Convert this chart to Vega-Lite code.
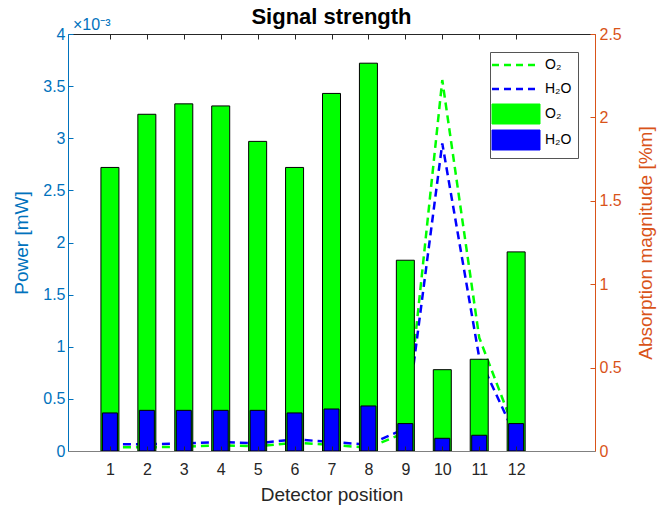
{
  "$schema": "https://vega.github.io/schema/vega-lite/v6.json",
  "autosize": {"type": "none"},
  "padding": {"left": 68, "top": 34, "right": 62, "bottom": 57},
  "width": 527,
  "height": 417,
  "title": {
    "text": "Signal strength",
    "font": "Liberation Sans",
    "fontSize": 22,
    "fontWeight": "bold",
    "color": "#000000",
    "anchor": "middle",
    "offset": -12
  },
  "config": {
    "font": "Liberation Sans",
    "view": {"stroke": null},
    "axis": {"grid": false, "labelFont": "Liberation Sans", "titleFont": "Liberation Sans", "titleFontWeight": "normal", "labelFontSize": 16, "titleFontSize": 19}
  },
  "datasets": {
    "power": [
      {"pos": 1, "series": "O₂ power", "mW": 0.00272},
      {"pos": 2, "series": "O₂ power", "mW": 0.00323},
      {"pos": 3, "series": "O₂ power", "mW": 0.00333},
      {"pos": 4, "series": "O₂ power", "mW": 0.00331},
      {"pos": 5, "series": "O₂ power", "mW": 0.00297},
      {"pos": 6, "series": "O₂ power", "mW": 0.00272},
      {"pos": 7, "series": "O₂ power", "mW": 0.00343},
      {"pos": 8, "series": "O₂ power", "mW": 0.00372},
      {"pos": 9, "series": "O₂ power", "mW": 0.00183},
      {"pos": 10, "series": "O₂ power", "mW": 0.00078},
      {"pos": 11, "series": "O₂ power", "mW": 0.00088},
      {"pos": 12, "series": "O₂ power", "mW": 0.00191},
      {"pos": 1, "series": "H₂O power", "mW": 0.000365},
      {"pos": 2, "series": "H₂O power", "mW": 0.00039},
      {"pos": 3, "series": "H₂O power", "mW": 0.00039},
      {"pos": 4, "series": "H₂O power", "mW": 0.00039},
      {"pos": 5, "series": "H₂O power", "mW": 0.00039},
      {"pos": 6, "series": "H₂O power", "mW": 0.000365},
      {"pos": 7, "series": "H₂O power", "mW": 0.000403},
      {"pos": 8, "series": "H₂O power", "mW": 0.000432},
      {"pos": 9, "series": "H₂O power", "mW": 0.000263},
      {"pos": 10, "series": "H₂O power", "mW": 0.000122},
      {"pos": 11, "series": "H₂O power", "mW": 0.000151},
      {"pos": 12, "series": "H₂O power", "mW": 0.000263}
    ],
    "absorption": [
      {"pos": 1, "series": "O₂ absorption", "pct": 0.022},
      {"pos": 2, "series": "O₂ absorption", "pct": 0.022},
      {"pos": 3, "series": "O₂ absorption", "pct": 0.026},
      {"pos": 4, "series": "O₂ absorption", "pct": 0.034},
      {"pos": 5, "series": "O₂ absorption", "pct": 0.028},
      {"pos": 6, "series": "O₂ absorption", "pct": 0.05},
      {"pos": 7, "series": "O₂ absorption", "pct": 0.036},
      {"pos": 8, "series": "O₂ absorption", "pct": 0.02},
      {"pos": 9, "series": "O₂ absorption", "pct": 0.11},
      {"pos": 10, "series": "O₂ absorption", "pct": 2.224},
      {"pos": 11, "series": "O₂ absorption", "pct": 0.68},
      {"pos": 12, "series": "O₂ absorption", "pct": 0.1},
      {"pos": 1, "series": "H₂O absorption", "pct": 0.04},
      {"pos": 2, "series": "H₂O absorption", "pct": 0.04},
      {"pos": 3, "series": "H₂O absorption", "pct": 0.045},
      {"pos": 4, "series": "H₂O absorption", "pct": 0.054},
      {"pos": 5, "series": "H₂O absorption", "pct": 0.046},
      {"pos": 6, "series": "H₂O absorption", "pct": 0.07},
      {"pos": 7, "series": "H₂O absorption", "pct": 0.054},
      {"pos": 8, "series": "H₂O absorption", "pct": 0.038},
      {"pos": 9, "series": "H₂O absorption", "pct": 0.135},
      {"pos": 10, "series": "H₂O absorption", "pct": 1.844},
      {"pos": 11, "series": "H₂O absorption", "pct": 0.56},
      {"pos": 12, "series": "H₂O absorption", "pct": 0.08}
    ]
  },
  "layer": [
    {
      "data": {"name": "absorption"},
      "mark": {"type": "line", "strokeDash": [8, 5], "strokeWidth": 2.5},
      "encoding": {
        "x": {
          "field": "pos", "type": "quantitative",
          "scale": {"domain": [0, 14], "nice": false, "zero": false},
          "axis": {"orient": "top", "values": [1,2,3,4,5,6,7,8,9,10,11,12], "labels": false, "title": null, "tickSize": -5, "domainColor": "#262626", "tickColor": "#262626"}
        },
        "y": {
          "field": "pct", "type": "quantitative",
          "scale": {"domain": [0, 2.5], "nice": false},
          "axis": {"orient": "right", "values": [0, 0.5, 1, 1.5, 2, 2.5], "format": ".1~f", "title": "Absorption magnitude [%m]", "titleAngle": 270, "tickSize": -5, "labelPadding": 9, "titlePadding": 34, "domainColor": "#D95319", "tickColor": "#D95319", "labelColor": "#D95319", "titleColor": "#D95319"}
        },
        "color": {
          "field": "series", "type": "nominal",
          "scale": {"domain": ["O₂ absorption", "H₂O absorption", "O₂ power", "H₂O power"], "range": ["#00ff00", "#0000ff", "#00ff00", "#0000ff"]},
          "legend": {
            "title": null,
            "orient": "none",
            "legendX": 422,
            "legendY": 18,
            "direction": "vertical",
            "padding": 6,
            "strokeColor": "#555555",
            "fillColor": "#ffffff",
            "symbolSize": 400,
            "symbolOffset": 13,
            "labelOffset": 22,
            "rowPadding": 2,
            "labelFont": "Liberation Sans",
            "labelFontSize": 14,
            "labelColor": "#000000",
            "labelExpr": "split(datum.label, ' ')[0]",
            "encode": {
              "symbols": {
                "update": {
                  "shape": {"signal": "datum.index < 2 ? 'M-2.4,-0.6M-2.4,0.6M-2.4,0H2.4' : 'M-2.4,-1H2.4V1H-2.4Z'"},
                  "size": {"value": 400},
                  "strokeDash": {"signal": "datum.index < 2 ? [7, 5] : [1, 0]"},
                  "strokeWidth": {"signal": "datum.index < 2 ? 2.5 : 1"},
                  "stroke": {"signal": "datum.index < 2 ? (datum.index == 0 ? '#00ff00' : '#0000ff') : '#000000'"},
                  "fill": {"signal": "datum.index < 2 ? 'transparent' : (datum.index == 2 ? '#00ff00' : '#0000ff')"},
                  "opacity": {"value": 1}
                }
              }
            }
          }
        }
      }
    },
    {
      "layer": [
        {
          "data": {"name": "power"},
          "transform": [{"filter": "datum.series == 'O₂ power'"}],
          "mark": {"type": "bar", "size": 18, "stroke": "#000000", "strokeWidth": 1, "orient": "vertical"},
          "encoding": {
            "x": {
              "field": "pos", "type": "quantitative",
              "axis": {"orient": "bottom", "values": [1,2,3,4,5,6,7,8,9,10,11,12], "title": "Detector position", "tickSize": -5, "labelPadding": 15, "titlePadding": 8, "zindex": 1, "domainColor": "#808080", "tickColor": "#262626", "labelColor": "#262626", "titleColor": "#262626"}
            },
            "y": {
              "field": "mW", "type": "quantitative", "stack": null,
              "scale": {"domain": [0, 0.004], "nice": false},
              "axis": {"orient": "left", "values": [0, 0.0005, 0.001, 0.0015, 0.002, 0.0025, 0.003, 0.0035, 0.004], "labelExpr": "format(datum.value * 1000, '.1~f')", "title": "Power [mW]", "tickSize": -5, "labelPadding": 8, "titlePadding": 11, "domainColor": "#0072BD", "tickColor": "#0072BD", "labelColor": "#0072BD", "titleColor": "#0072BD"}
            },
            "color": {"field": "series", "type": "nominal"}
          }
        },
        {
          "data": {"name": "power"},
          "transform": [{"filter": "datum.series == 'H₂O power'"}],
          "mark": {"type": "bar", "size": 15, "stroke": "#000000", "strokeWidth": 1, "orient": "vertical"},
          "encoding": {
            "x": {"field": "pos", "type": "quantitative"},
            "y": {"field": "mW", "type": "quantitative", "stack": null},
            "color": {"field": "series", "type": "nominal"}
          }
        },
        {
          "data": {"values": [{"exponent": "×10⁻³"}]},
          "mark": {"type": "text", "align": "left", "baseline": "alphabetic", "dy": -4, "fontSize": 16, "color": "#0072BD"},
          "encoding": {
            "x": {"datum": 0, "type": "quantitative"},
            "y": {"datum": 0.004, "type": "quantitative"},
            "text": {"field": "exponent"}
          }
        }
      ]
    }
  ],
  "resolve": {"scale": {"y": "independent"}, "axis": {"x": "independent"}}
}
